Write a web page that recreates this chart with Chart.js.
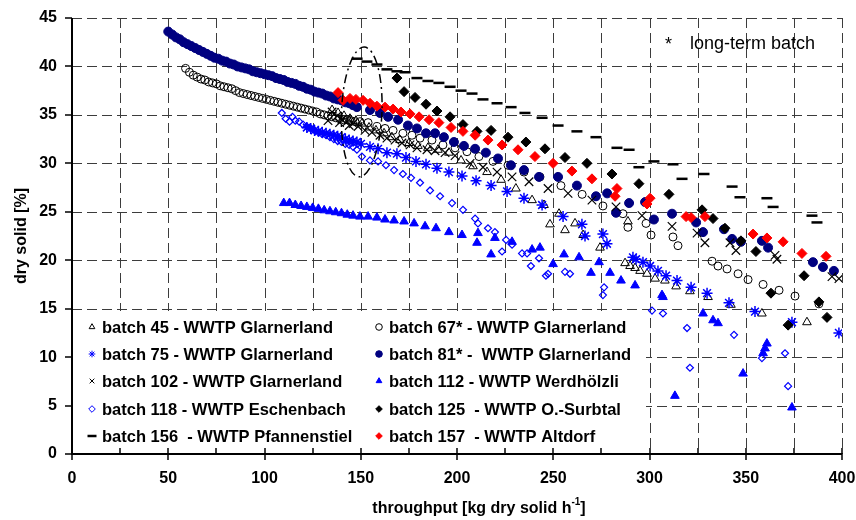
<!DOCTYPE html>
<html>
<head>
<meta charset="utf-8">
<script src="https://cdn.jsdelivr.net/npm/chart.js"></script>
<style>
  body { margin: 0; background: #fff; }
  #wrap { width: 856px; height: 520px; }
</style>
</head>
<body>
<div id="wrap"><canvas id="myChart" width="856" height="520"></canvas></div>
<script>
// --- data: [throughput, dry solid] ---
const batch45 = [[135.1,35.5],[138.2,35.2],[141.3,34.9],[144.4,34.6],[147.5,34.4],[150.6,34.1],[154.3,33.7],[157.9,33.4],[162.1,33.1],[166.2,32.7],[170.4,32.4],[175.1,32.1],[179.7,31.8],[184.9,31.6],[190.1,31.4],[195.8,31.1],[202.1,30.3],[208.3,29.7],[215.6,29.1],[222.9,28.3],[230.6,27.4],[239,26.2],[245.2,25.7],[253,24.8],[248.3,23.7],[256.1,23.1],[261.3,23.8],[265.5,22.6],[274.3,21.3],[288.8,24.0],[287.3,19.7],[289.9,19.4],[292.5,19.2],[295.1,18.9],[298.7,18.6],[302.9,18.1],[308,17.9],[313.8,17.3],[321,16.8],[330.4,16.2],[342.3,15.4],[358.4,14.5],[381.8,13.6]];

const batch67 = [[59,39.8],[61,39.4],[63,39.1],[65,38.9],[67,38.7],[69,38.6],[71,38.4],[73,38.3],[75,38.2],[77,38.0],[79,37.9],[81,37.8],[83,37.7],[85,37.5],[87,37.3],[89,37.2],[91,37.1],[93,37.0],[95,36.9],[97,36.8],[99,36.7],[101,36.6],[103,36.5],[105,36.4],[107,36.3],[109,36.2],[111,36.1],[113,36.0],[115,35.9],[117,35.8],[119,35.7],[121,35.6],[123,35.5],[125,35.4],[127,35.3],[129,35.1],[131,35.0],[133,34.9],[135,34.8],[137,34.7],[139,34.6],[141,34.5],[143,34.5],[145,34.4],[147,34.3],
  [149.6,34.3],[153.8,34.2],[158.4,33.8],[162.6,33.6],[166.8,33.4],[171.9,33.1],[176.6,32.9],[180.8,32.6],[187,32.4],[192.7,31.9],[199,31.6],[205.2,31.2],[211.4,30.7],[218.7,30.2],[226.5,29.8],[234.8,29.1],[243.1,28.6],[254,27.7],[265,26.8],[275.8,25.6],[286.2,24.8],[288.8,23.4],[298.2,23.8],[300.8,22.6],[312.2,22.4],[314.8,21.5],[332.5,19.9],[335.6,19.4],[340.3,19.1],[346,18.6],[351.2,18.0],[359,17.5],[367.3,16.9],[375.6,16.3],[388,15.5]];

const batch75 = [[122,33.7],[124,33.6],[126,33.4],[128,33.3],[130,33.2],[132,33.1],[134,33.0],[136,32.9],[138,32.8],[140,32.7],[142,32.5],[144,32.4],[146,32.3],[148,32.2],
  [150.1,32.0],[154.8,31.7],[159,31.5],[163.6,31.1],[168.8,31.0],[173.5,30.6],[178.7,30.2],[183.9,29.9],[189.6,29.5],[195.8,29.1],[202.6,28.7],[209.9,28.2],[217.7,27.7],[226,27.1],[234.8,26.4],[244.2,25.7],[255.1,24.5],[264.9,23.7],[266.5,22.5],[275.8,22.7],[277.9,21.7],[291.4,20.3],[293,20.1],[296.6,19.8],[300.3,19.4],[304.4,18.9],[308.6,18.4],[314.3,17.9],[321.6,17.2],[329.9,16.6],[341.3,15.6],[354.8,14.7],[374,13.6],[398.4,12.5]];

const batch81 = [[50,43.6],[52,43.3],[54,43.0],[56,42.8],[58,42.5],[60,42.3],[62,42.1],[64,41.9],[66,41.7],[68,41.5],[70,41.3],[72,41.1],[74,40.9],[76,40.8],[78,40.6],[80,40.5],[82,40.3],[84,40.2],[86,40.0],[88,39.9],[90,39.8],[92,39.7],[94,39.5],[96,39.4],[98,39.3],[100,39.2],[102,39.1],[104,39.0],[106,38.8],[108,38.7],[110,38.6],[112,38.4],[114,38.3],[116,38.2],[118,38.0],[120,37.9],[122,37.7],[124,37.6],[126,37.4],[128,37.3],[130,37.2],[132,37.0],[134,36.9],[136,36.7],[138,36.6],[140,36.5],[142,36.3],[144,36.2],[146,36.0],
  [148,35.8],[154.8,35.5],[160,35.2],[164.2,34.8],[169.4,34.5],[174.5,33.9],[179.2,33.6],[183.9,33.1],[188.6,33.1],[193.2,32.7],[198.4,32.2],[203.6,31.8],[209.4,31.5],[215,31.1],[221.3,30.5],[228,29.8],[234.8,29.3],[242.6,28.6],[252.5,28.6],[262.3,27.7],[272.2,26.6],[278,26.9],[282.6,24.9],[289.4,25.9],[297.7,26.0],[302.3,24.2],[311.7,24.8],[324.2,23.9],[327.8,22.9],[338.7,23.2],[342.9,22.2],[347.5,21.9],[358.4,22.0],[361.6,21.3],[384.9,19.8],[390.1,19.3],[395.8,18.9]];

const batch102 = [[133,34.4],[135.1,35.3],[137.7,34.9],[139,34.2],[140.3,34.5],[142.9,34.3],[144,33.9],[146,34.1],[148.6,33.8],[152.2,33.4],[155.8,33.2],[160,32.9],[163.6,32.6],[167.8,32.4],[171.4,32.1],[175.6,31.9],[179.2,31.6],[184.4,31.4],[188.6,31.3],[193.8,31.1],[199,30.8],[206.8,30.0],[213.5,29.6],[220.8,29.1],[228.6,28.6],[237.4,28.1],[247.3,27.4],[257.7,26.9],[270.1,26.2],[282.6,25.5],[296.1,24.6],[311.7,23.5],[324.7,22.8],[328.8,21.8],[341.8,21.8],[344.9,21.0],[365.2,20.5],[366.2,20.1],[394.8,18.3],[398.4,18.1]];

const batch112 = [[110,25.9],[113,25.9],[116,25.7],[119,25.6],[122,25.5],[125,25.4],[128,25.3],[131,25.15],[134,25.05],[137,24.95],[140,24.85],[143,24.7],[146,24.6],
  [149.6,24.5],[153.8,24.5],[158.4,24.4],[162.6,24.2],[167.3,24.1],[172.5,24.0],[177.7,23.8],[183.4,23.5],[189.1,23.3],[195.8,22.9],[202.6,22.6],[210.4,21.8],[210.9,22.8],[217.7,20.6],[219.7,22.3],[228.6,21.9],[239,21.1],[243.1,21.3],[249.9,19.6],[255.6,20.6],[263.4,20.3],[269.6,18.7],[273.8,19.8],[279.5,18.7],[285.2,17.9],[292.5,17.4],[306.5,16.4],[307,16.2],[313.2,6.0],[327.8,14.5],[333,13.8],[335.6,13.5],[348.6,8.3],[359,10.4],[360,10.9],[361,11.4],[374,4.8]];

const batch118 = [[109,35.2],[111,34.6],[113,34.3],[114.5,34.8],[116,34.4],[118,34.3],[120,34.0],[122,33.8],[124,33.6],[126,33.4],[128,33.2],[130,33.0],[132,32.9],[134,32.7],[136,32.5],[138,32.3],[140,32.2],[142,32.0],[144,31.9],[146,31.7],[148,31.4],
  [150.6,30.7],[154.8,30.3],[159,30.2],[163.1,29.8],[167.3,29.3],[171.9,28.9],[176.1,28.5],[180.8,28.0],[186,27.2],[191.2,26.6],[197.4,25.9],[203.1,25.2],[209.4,24.3],[210.9,23.8],[216.1,23.3],[219.7,22.9],[223.4,20.9],[225.5,22.1],[228.6,21.6],[233.8,20.7],[236.4,20.7],[238.4,19.4],[242.6,20.2],[246.2,18.4],[247.3,18.6],[256.1,18.8],[258.7,18.6],[275.8,16.4],[276.4,17.2],[301.3,14.8],[307,14.5],[319.5,13.0],[321,8.9],[343.9,12.3],[358.4,9.9],[370.4,10.4],[372,7.0]];

const batch125 = [[168.8,38.8],[172.5,37.4],[178.2,36.8],[183.9,36.1],[189.6,35.4],[196.4,34.8],[203.1,34.0],[210.4,33.3],[217.7,33.4],[226.5,32.7],[235.8,32.2],[245.7,31.5],[256.1,30.6],[267.5,30.0],[280.5,28.9],[294.5,27.9],[310.1,26.8],[327.3,25.2],[333,24.3],[339.2,23.3],[347.5,22.0],[355.3,20.9],[363.1,16.6],[372,13.3],[380.3,18.4],[388,15.7],[392.2,14.1]];

const batch156 = [[148.1,40.8],[153.2,40.5],[158.4,40.2],[163.6,39.7],[168.8,39.5],[173,39.4],[179.2,38.8],[184.9,38.5],[190.6,38.3],[196.4,37.9],[202.1,37.5],[207.8,37.2],[213.5,36.6],[220.8,36.2],[228.1,35.8],[235.3,35.2],[244.2,34.7],[252.5,33.9],[262.3,33.3],[272.2,32.7],[283.1,31.6],[289.4,31.4],[294.5,29.6],[302.3,30.2],[312.2,29.9],[316.9,28.4],[328.3,28.9],[342.9,27.6],[347,26.5],[361,26.4],[364.2,25.5],[384.4,24.6],[387,23.9]];

const batch157 = [[138.2,37.3],[140.8,36.5],[144.4,36.7],[147.5,36.6],[151.2,36.5],[154.8,36.2],[158.4,35.9],[162.6,35.8],[166.8,35.6],[170.9,35.3],[175.6,35.1],[180.3,34.8],[185.5,34.5],[190.6,34.2],[196.9,33.7],[203.1,33.3],[209.4,32.9],[216.1,32.4],[223.4,31.9],[231.7,31.4],[240.5,30.7],[249.9,30.0],[259.7,29.2],[270.1,28.4],[283.1,27.4],[282.1,26.6],[300.3,26.4],[298.7,25.8],[319,24.5],[321.6,24.4],[328.8,24.5],[353.8,22.7],[361,22.3],[369.4,21.9],[379.2,20.7],[391.7,20.4]];

const batchLabels = [
    'batch 45 - WWTP Glarnerland',
    'batch 67* - WWTP Glarnerland',
    'batch 75 - WWTP Glarnerland',
    'batch 81* -  WWTP Glarnerland',
    'batch 102 - WWTP Glarnerland',
    'batch 112 - WWTP Werdhölzli',
    'batch 118 - WWTP Eschenbach',
    'batch 125  - WWTP O.-Surbtal',
    'batch 156  - WWTP Pfannenstiel',
    'batch 157  - WWTP Altdorf'
];
const batchData = [batch45, batch67, batch75, batch81, batch102, batch112, batch118, batch125, batch156, batch157];

const xGrid = [25, 50, 75, 100, 125, 150, 175, 200, 225, 250, 275, 300, 325, 350, 375, 400];
const yGrid = [5, 10, 15, 20, 25, 30, 35, 40, 45];
const noteText = 'long-term batch';

// marker look of every batch (same order as labels)
const markers = [
    { style: 'triangle', r: 5,   fill: 'rgba(0,0,0,0)', line: '#000',    w: 1 },
    { style: 'circle',   r: 4,   fill: 'rgba(0,0,0,0)', line: '#000',    w: 1 },
    { style: 'star',     r: 5.5, fill: 'rgba(0,0,0,0)', line: '#0000ff', w: 1.5 },
    { style: 'circle',   r: 4.5, fill: '#000080',       line: '#000080', w: 1 },
    { style: 'crossRot', r: 6,   fill: 'rgba(0,0,0,0)', line: '#000',    w: 1.2 },
    { style: 'triangle', r: 5,   fill: '#0000ff',       line: '#0000ff', w: 1 },
    { style: 'rectRot',  r: 3.5, fill: 'rgba(0,0,0,0)', line: '#0000ff', w: 1.2 },
    { style: 'rectRot',  r: 5,   fill: '#000',          line: '#000',    w: 1 },
    { style: 'line',     r: 5.5, fill: '#000',          line: '#000',    w: 2.5 },
    { style: 'rectRot',  r: 5,   fill: '#ff0000',       line: '#ff0000', w: 1 }
];

const FONT = "'Liberation Sans', Arial, sans-serif";

// grid, legend box and axes under the points
const framePlugin = {
    id: 'frame',
    beforeDatasetsDraw(chart) {
        const c = chart.ctx, a = chart.chartArea;
        const xs = chart.scales.x, ys = chart.scales.y;
        c.save();
        c.strokeStyle = '#3c3c3c';
        c.lineWidth = 1;
        c.setLineDash([10, 5]);
        yGrid.forEach(v => {
            const py = Math.round(ys.getPixelForValue(v)) + 0.5;
            c.beginPath(); c.moveTo(a.left, py); c.lineTo(a.right, py); c.stroke();
        });
        xGrid.forEach(v => {
            const px = Math.round(xs.getPixelForValue(v)) + 0.5;
            c.beginPath(); c.moveTo(px, a.top); c.lineTo(px, a.bottom); c.stroke();
        });
        c.setLineDash([]);

        // white legend box
        c.fillStyle = '#fff';
        c.fillRect(a.left + 1, 311, 573, a.bottom - 311 - 1);

        // axis lines
        c.strokeStyle = '#000';
        c.lineWidth = 2;
        c.beginPath();
        c.moveTo(a.left, a.top); c.lineTo(a.left, a.bottom); c.lineTo(a.right, a.bottom);
        c.stroke();
        c.lineWidth = 1.5;
        yGrid.concat([0]).forEach(v => {
            const py = Math.round(ys.getPixelForValue(v));
            c.beginPath(); c.moveTo(a.left - 7, py); c.lineTo(a.left, py); c.stroke();
        });
        [0].concat(xGrid).forEach(v => {
            const px = Math.round(xs.getPixelForValue(v));
            const major = v % 50 === 0;
            c.beginPath();
            c.moveTo(px, a.bottom - 6);
            c.lineTo(px, major ? a.bottom + 6 : a.bottom);
            c.stroke();
        });

        // legend entries
        const rows = [327, 354, 381, 409, 436];
        c.font = 'bold 16.5px ' + FONT;
        c.textBaseline = 'middle';
        batchLabels.forEach((lab, i) => {
            const col = i % 2, row = Math.floor(i / 2);
            const mx = col ? 379 : 92;
            const my = rows[row];
            const m = markers[i];
            c.fillStyle = m.fill;
            c.strokeStyle = m.line;
            c.lineWidth = m.style === 'line' ? 2.5 : 1;
            Chart.helpers.drawPoint(c, { pointStyle: m.style, rotation: 0, radius: m.style === 'line' ? 4.5 : 3.3, borderWidth: c.lineWidth }, mx, my);
            c.fillStyle = '#000';
            c.fillText(lab, mx + 10, my + 1);
        });
        c.restore();
    },
    afterDraw(chart) {
        const c = chart.ctx, a = chart.chartArea;
        const xs = chart.scales.x, ys = chart.scales.y;
        c.save();
        // dash-dot ellipse round the early long-term points
        const cx = xs.getPixelForValue(150.5), cy = ys.getPixelForValue(35.3);
        const rx = xs.getPixelForValue(161) - cx, ry = cy - ys.getPixelForValue(42.0);
        c.strokeStyle = '#000';
        c.lineWidth = 1.5;
        c.setLineDash([9, 4, 2, 4]);
        c.beginPath();
        c.ellipse(cx, cy, rx, ry, 0.04, 0, Math.PI * 2);
        c.stroke();
        c.setLineDash([]);

        // note top right
        c.fillStyle = '#000';
        c.font = '18px ' + FONT;
        c.textBaseline = 'alphabetic';
        c.fillText('*', 665, 50);
        c.fillText(noteText, 690, 49);

        // axis titles
        c.font = 'bold 16px ' + FONT;
        const t1 = 'throughput [kg dry solid h', t2 = '-1', t3 = ']';
        const w1 = c.measureText(t1).width, w3 = c.measureText(t3).width;
        c.font = 'bold 10px ' + FONT;
        const w2 = c.measureText(t2).width;
        let sx = 479 - (w1 + w2 + w3) / 2;
        c.font = 'bold 16px ' + FONT;
        c.fillText(t1, sx, 513);
        c.font = 'bold 10px ' + FONT;
        c.fillText(t2, sx + w1, 505);
        c.font = 'bold 16px ' + FONT;
        c.fillText(t3, sx + w1 + w2, 513);

        c.translate(22, (a.top + a.bottom) / 2);
        c.rotate(-Math.PI / 2);
        c.textAlign = 'center';
        c.textBaseline = 'middle';
        c.fillText('dry solid [%]', 0, 0);
        c.restore();
    }
};

const ctx = document.getElementById('myChart').getContext('2d');
const myChart = new Chart(ctx, {
    type: 'scatter',
    data: {
        datasets: batchData.map((pts, i) => ({
            label: batchLabels[i],
            data: pts.map(p => ({ x: p[0], y: p[1] })),
            pointStyle: markers[i].style,
            pointRadius: markers[i].r,
            pointBackgroundColor: markers[i].fill,
            pointBorderColor: markers[i].line,
            pointBorderWidth: markers[i].w,
            showLine: false,
            order: 10 - i
        }))
    },
    options: {
        responsive: false,
        animation: false,
        devicePixelRatio: 1,
        layout: { padding: { top: 18, right: 0, left: 0, bottom: 0 } },
        plugins: {
            legend: { display: false },
            tooltip: { enabled: false }
        },
        scales: {
            x: {
                type: 'linear',
                min: 0,
                max: 400,
                grid: { display: false, drawTicks: false },
                border: { display: false },
                ticks: {
                    stepSize: 50,
                    autoSkip: false,
                    maxRotation: 0,
                    padding: 15,
                    color: '#000',
                    font: { family: FONT, size: 16, weight: 'bold' }
                },
                afterFit: s => { s.height = 66; s.paddingRight = 14; }
            },
            y: {
                type: 'linear',
                min: 0,
                max: 45,
                grid: { display: false, drawTicks: false },
                border: { display: false },
                ticks: {
                    stepSize: 5,
                    autoSkip: false,
                    padding: 15,
                    color: '#000',
                    font: { family: FONT, size: 16, weight: 'bold' }
                },
                afterFit: s => { s.width = 72; s.paddingTop = 0; s.paddingBottom = 0; }
            }
        }
    },
    plugins: [framePlugin]
});
</script>
</body>
</html>
